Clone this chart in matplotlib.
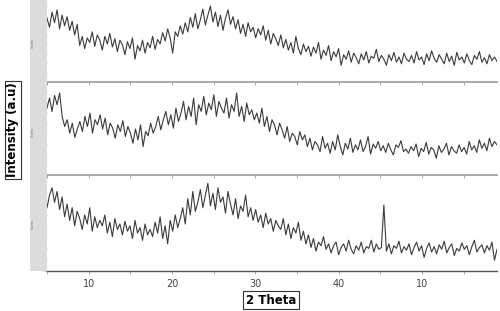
"""
Stacked XRD patterns, three samples, shared 2 Theta axis
"""
import numpy as np
from matplotlib import pyplot
from matplotlib.patches import Rectangle
from matplotlib.ticker import MultipleLocator

# intensity in arbitrary units (0-100 per panel)
top_counts = [
    84, 72, 92, 78, 95, 70, 88,
    74, 86, 68, 80, 62, 76,
    48, 60, 44, 58, 52, 66, 47, 62, 55, 42, 60,
    50, 64, 46, 57, 40, 55, 49, 36, 53, 44, 58,
    30, 48, 41, 55, 38, 52, 45, 60, 43, 56,
    50, 65, 54, 70, 58, 38, 66, 60, 74, 63,
    78, 66, 85, 72, 90, 70, 82, 96, 75, 88,
    100, 79, 92, 73, 88, 68, 84, 95, 76, 86,
    70, 82, 64, 76, 60, 78, 66, 72, 58, 70,
    62, 74, 55, 68, 50, 64, 57, 48, 62, 45,
    56, 42, 52, 38, 60, 44, 36, 50, 40, 47,
    34, 46, 38, 52, 30, 42, 35, 48, 28, 40,
    33, 44, 22, 36, 30, 41, 26, 38, 32, 24,
    37, 29, 40, 25, 34, 31, 43, 27, 35, 30,
    22, 36, 28, 39, 26, 33, 24, 38, 30, 27,
    35, 25, 40, 29, 33, 23, 37, 28, 41, 31,
    26, 36, 30, 24, 38, 27, 34, 22, 39, 29,
    33, 25, 37, 28, 23, 35, 30, 40, 26, 32,
    24, 36, 28, 33, 27,
]
mid_counts = [
    80, 92, 76, 95, 84, 98, 70,
    58, 66, 50, 62, 45, 55,
    64, 52, 70, 58, 74, 50, 66, 60, 72, 55,
    68, 48, 62, 56, 44, 60, 52, 65, 46, 58,
    50, 38, 55, 42, 60, 34, 52, 47, 62, 50,
    58, 70, 54, 66, 76, 60, 72, 56, 80, 64,
    74, 88, 66, 82, 70, 92, 60, 84, 76, 94,
    72, 86, 78, 96, 70, 88, 80, 74, 92, 68,
    84, 76, 98, 70, 82, 64, 86, 72, 78, 66,
    74, 62, 80, 58, 70, 52, 66, 60, 48, 62,
    54, 44, 58, 40, 50, 46, 36, 52, 42, 48,
    34, 44, 30, 40, 36, 28, 46, 32, 38, 26,
    40, 30, 48, 34, 24, 38, 31, 44, 27, 36,
    30, 42, 28, 34, 46, 25, 37, 32, 40, 29,
    35, 27, 38, 30, 24, 36, 33, 41, 28, 31,
    26, 34, 29, 37, 22, 32, 28, 39, 25, 33,
    30, 20, 35, 27, 31, 38, 24, 34, 29, 26,
    36, 28, 33, 25, 40, 30, 35, 27, 42, 32,
    38, 29, 44, 34, 40, 36,
]
low_counts = [
    70, 84, 92, 76, 88, 68, 82,
    60, 74, 56, 70, 50, 66,
    58, 46, 62, 52, 70, 44, 60, 48, 56, 50,
    62, 42, 54, 38, 58, 46, 52, 40, 55, 44,
    50, 36, 56, 42, 48, 34, 52, 40, 46, 38,
    54, 42, 60, 36, 50, 30, 56, 44, 62, 48,
    58, 70, 52, 80, 62, 88, 66, 76, 90, 70,
    84, 97, 72, 86, 68, 92, 76, 82, 64, 88,
    74, 62, 80, 58, 72, 66, 84, 60, 70, 56,
    68, 54, 62, 48, 64, 52, 58, 44, 56, 50,
    46, 58, 40, 52, 36, 48, 42, 54, 34, 44,
    30, 40, 26, 36, 22, 32, 28, 38, 24, 30,
    20, 28, 32, 18, 26, 30, 22, 34, 24, 19,
    28, 23, 32, 20, 27, 25, 34, 21, 30, 24,
    26, 73, 22, 30, 19, 28, 25, 33, 20, 27, 23,
    30, 18, 26, 32, 22, 28, 15, 25, 31, 21,
    27, 19, 29, 24, 33, 20, 26, 30, 17, 25,
    22, 31, 24, 28, 18, 27, 34, 21, 26, 29,
    20, 28, 23, 32, 12, 24,
]

THETA_MIN, THETA_MAX = 5, 59
xtick_vals = [10, 20, 30, 40, 50]
xtick_labels = ["10", "20", "30", "40", "10"]
ytick_vals = [0, 12.5, 25, 37.5, 50, 62.5, 75, 87.5, 100]
ytick_labels = ["0", "500", "1000", "1500", "2000", "2500", "3000", "3500", "4000"]

W, H = 500, 311
# panel boxes in pixels: (top, bottom)
panels = [(top_counts, 3, 82), (mid_counts, 88, 175), (low_counts, 177, 271)]

fig = pyplot.figure(figsize=(W / 100, H / 100), dpi=100)
fig.patches.append(Rectangle((30 / W, 1 - 271 / H), 17 / W, 271 / H,
                             transform=fig.transFigure, facecolor="#dcdcdc",
                             edgecolor="none", zorder=0))

for idx, (counts, ytop, ybot) in enumerate(panels):
    ax = fig.add_axes([47 / W, 1 - ybot / H, 450 / W, (ybot - ytop) / H])
    ax.patch.set_alpha(0)
    theta = np.linspace(THETA_MIN, THETA_MAX, len(counts))
    ax.plot(theta, counts, color="#3a3a3a", linewidth=0.8)
    ax.set_xlim(THETA_MIN, THETA_MAX)
    ax.set_ylim(0, 104)
    for side in ("top", "right", "left"):
        ax.spines[side].set_visible(False)
    last = idx == len(panels) - 1
    ax.spines["bottom"].set_color("#555555" if last else "#999999")
    ax.spines["bottom"].set_linewidth(1.0 if last else 1.2)
    ax.set_xticks(xtick_vals)
    ax.xaxis.set_minor_locator(MultipleLocator(5))
    ax.tick_params(axis="x", which="both", length=2, width=0.5, colors="#888888")
    if last:
        ax.set_xticklabels(xtick_labels, fontsize=7, color="#444444")
        ax.tick_params(axis="x", which="major", pad=4, labelcolor="#444444")
    else:
        ax.set_xticklabels([])
    ax.set_yticks(ytick_vals)
    ax.set_yticklabels(ytick_labels, fontsize=1.8, color="#888888")
    ax.tick_params(axis="y", length=2, width=0.4, colors="#999999", pad=0.5)
    fig.text(33 / W, 1 - (ytop + ybot) / 2 / H, "Counts", rotation=90,
             fontsize=2.2, color="#777777", ha="center", va="center")

fig.text(13 / W, 1 - 130 / H, "Intensity (a.u)", rotation=90, fontsize=8.5,
         fontweight="bold", ha="center", va="center",
         bbox=dict(boxstyle="square,pad=0.15", facecolor="white",
                   edgecolor="#333333", linewidth=0.8))
fig.text(271 / W, 1 - 300 / H, "2 Theta", fontsize=8.5, fontweight="bold",
         ha="center", va="center",
         bbox=dict(boxstyle="square,pad=0.2", facecolor="white",
                   edgecolor="#333333", linewidth=0.8))

fig.savefig("out.png", dpi=100)
pyplot.close(fig)
